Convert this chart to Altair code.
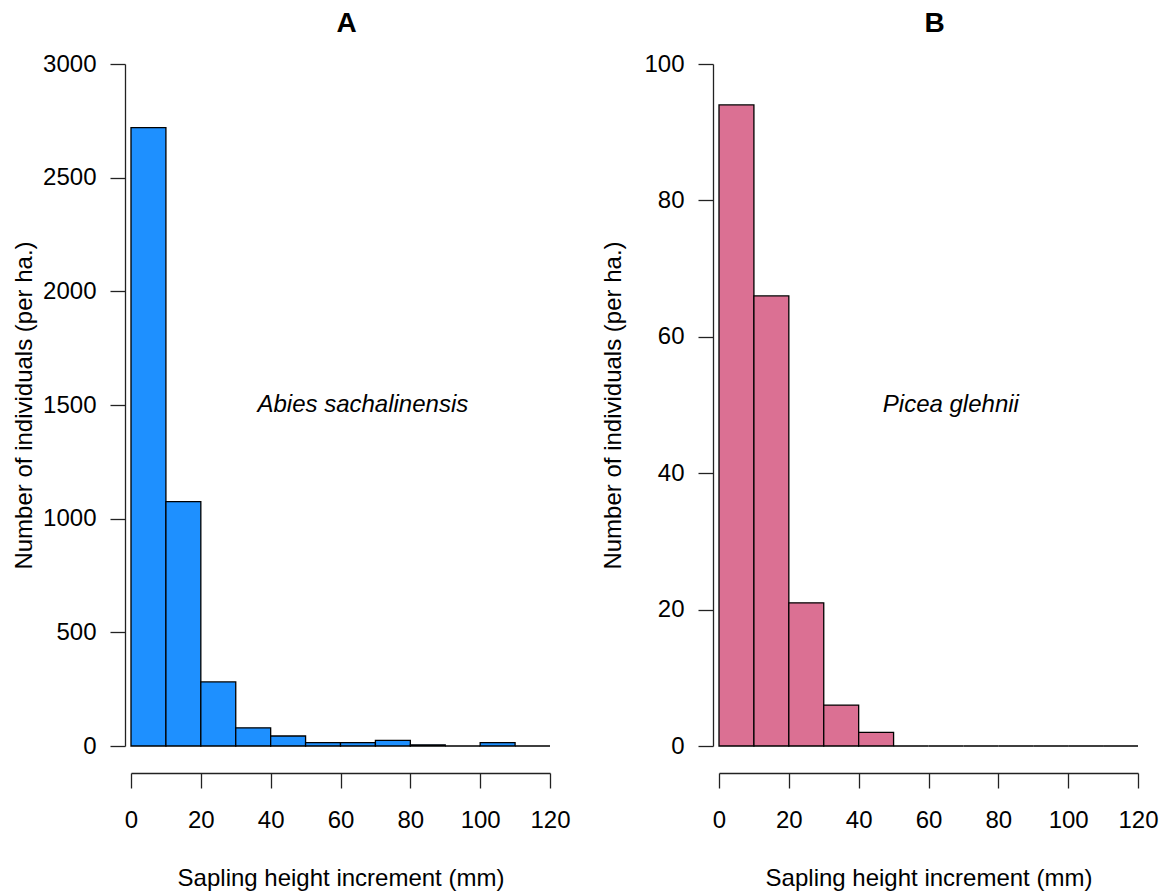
import altair as alt
import pandas as pd

# ---- data ----
bin_starts = [0, 10, 20, 30, 40, 50, 60, 70, 80, 90, 100, 110]
bin_ends = [10, 20, 30, 40, 50, 60, 70, 80, 90, 100, 110, 120]
abies_counts = [2720, 1075, 282, 80, 44, 15, 15, 25, 5, 0, 15, 0]
picea_counts = [94, 66, 21, 6, 2, 0, 0, 0, 0, 0, 0, 0]

x_ticks = [0, 20, 40, 60, 80, 100, 120]
abies_y_ticks = [0, 500, 1000, 1500, 2000, 2500, 3000]
picea_y_ticks = [0, 20, 40, 60, 80, 100]

panel_titles = ["A", "B"]
species = ["Abies sachalinensis", "Picea glehnii"]
label_x = [66.4, 66.4]
label_y = [1500, 50]
colors = ["#1E90FF", "#DB7093"]

FONT = "Liberation Sans"
AX = "#222222"


def panel(counts, color, ymax, yticks, title, label, lx, ly, ytitle_pad):
    df = pd.DataFrame({"start": bin_starts, "end": bin_ends, "count": counts,
                       "zero": [0] * len(counts)})
    bars = alt.Chart(df).mark_rect(color=color, stroke="black", strokeWidth=1.3).encode(
        x=alt.X("start:Q",
                scale=alt.Scale(domain=[0, 120], nice=False, zero=False),
                axis=alt.Axis(values=x_ticks, title="Sapling height increment (mm)",
                              offset=27, tickSize=15, labelPadding=20, titlePadding=34,
                              format="d", labelFlush=False)),
        x2="end:Q",
        y=alt.Y("count:Q",
                scale=alt.Scale(domain=[0, ymax], nice=False),
                axis=alt.Axis(values=yticks, title="Number of individuals (per ha.)",
                              offset=6, tickSize=15, labelPadding=14,
                              titlePadding=ytitle_pad,
                              format="d", labelFlush=False)),
        y2="zero:Q",
    )
    tdf = pd.DataFrame({"x": [lx], "y": [ly], "t": [label]})
    txt = alt.Chart(tdf).mark_text(fontStyle="italic", fontSize=24, font=FONT,
                                   color="black", align="center", baseline="middle").encode(
        x="x:Q", y="y:Q", text="t:N")
    return alt.layer(bars, txt).properties(
        width=419, height=682,
        title=alt.TitleParams(title, fontSize=28, fontWeight="bold", font=FONT,
                              color="black", anchor="middle", dx=6, offset=14,
                              frame="group"))


a = panel(abies_counts, colors[0], 3000, abies_y_ticks, panel_titles[0], species[0],
          label_x[0], label_y[0], 6)
b = panel(picea_counts, colors[1], 100, picea_y_ticks, panel_titles[1], species[1],
          label_x[1], label_y[1], 18)

chart = alt.hconcat(a, b, spacing=169, bounds="flush").properties(
    padding={"left": 12, "top": 10, "right": 5, "bottom": 5},
    background="white",
).configure_view(stroke=None).configure_axis(
    grid=False, domainColor=AX, tickColor=AX, domainWidth=1.3, tickWidth=1.3,
    labelFont=FONT, titleFont=FONT, labelFontSize=24, titleFontSize=24,
    labelColor="black", titleColor="black", titleFontWeight="normal",
)

chart.save("out.html", embed_options={"renderer": "svg", "actions": False})
